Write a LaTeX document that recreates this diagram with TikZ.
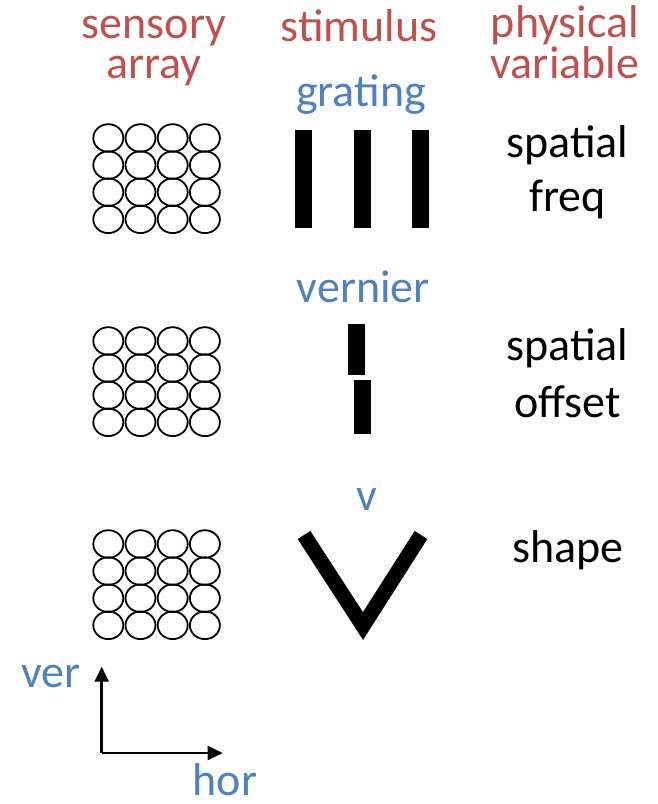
\documentclass[tikz,border=0pt]{standalone}
\usepackage{fontspec}
\setmainfont{Carlito}
\usetikzlibrary{arrows.meta}
\definecolor{hdrred}{HTML}{C0504D}
\definecolor{stimblue}{HTML}{4F81BD}
\tikzset{
  hdr/.style={text=hdrred,align=center,anchor=base,inner sep=1pt,font=\fontsize{46}{40}\selectfont},
  stim/.style={text=stimblue,anchor=base,inner sep=1pt,font=\fontsize{46}{46}\selectfont},
  phys/.style={align=center,anchor=base,font=\fontsize{46}{55.5}\selectfont},
  cell/.style={line width=1.8pt},
  axis/.style={line width=2.5pt,-{Triangle[length=15pt,width=14pt]}}
}
\begin{document}
\begin{tikzpicture}[x=1pt,y=-1pt]
\useasboundingbox (0,0) rectangle (657,804);
\def\dx{32.2}
\def\dy{27.1}
% column headings (base = last line)
\node[hdr] (sensory) at (154,78.3) {sensory\\array};
\node[hdr] (stimulus) at (359,41) {stimulus};
\node[hdr,font=\fontsize{46}{41}\selectfont] (physical) at (565,78.3) {physical\\variable};
% sensory arrays
\foreach \gy in {138,341,544}
  \foreach \i in {0,...,3}
    \foreach \j in {0,...,3}
      \draw[cell] ({108.3+\dx*\i},{\gy+\dy*\j}) ellipse [x radius=15,y radius=13.8];
% grating
\node[stim] (grating) at (361,106) {grating};
\fill (295,130) rectangle (311.7,228.3);
\fill (354,130) rectangle (370.7,228.3);
\fill (412.3,130) rectangle (429,228.3);
\node[phys,font=\fontsize{46}{54}\selectfont] (freq) at (567.5,211) {spatial\\freq};
% vernier
\node[stim] (vernier) at (363.3,302) {vernier};
\fill (348.3,324) rectangle (365,375);
\fill (354,380) rectangle (370.7,434);
\node[phys,font=\fontsize{46}{56.5}\selectfont] (offset) at (567.5,417) {spatial\\offset};
% v
\node[stim] (vee) at (366.7,510) {v};
\draw[line width=15pt] (304,535) -- (363,626) -- (421,535);
\node[phys] (shape) at (568,562) {shape};
% axes
\coordinate (o) at (101.7,753);
\coordinate (vtip) at (101.7,666.7);
\coordinate (htip) at (222.7,753);
\draw[axis] (o) -- (vtip);
\draw[axis] (o) -- (htip);
\node[stim] (ver) at (51,687) {ver};
\node[stim] (hor) at (225,795) {hor};
\end{tikzpicture}
\end{document}
